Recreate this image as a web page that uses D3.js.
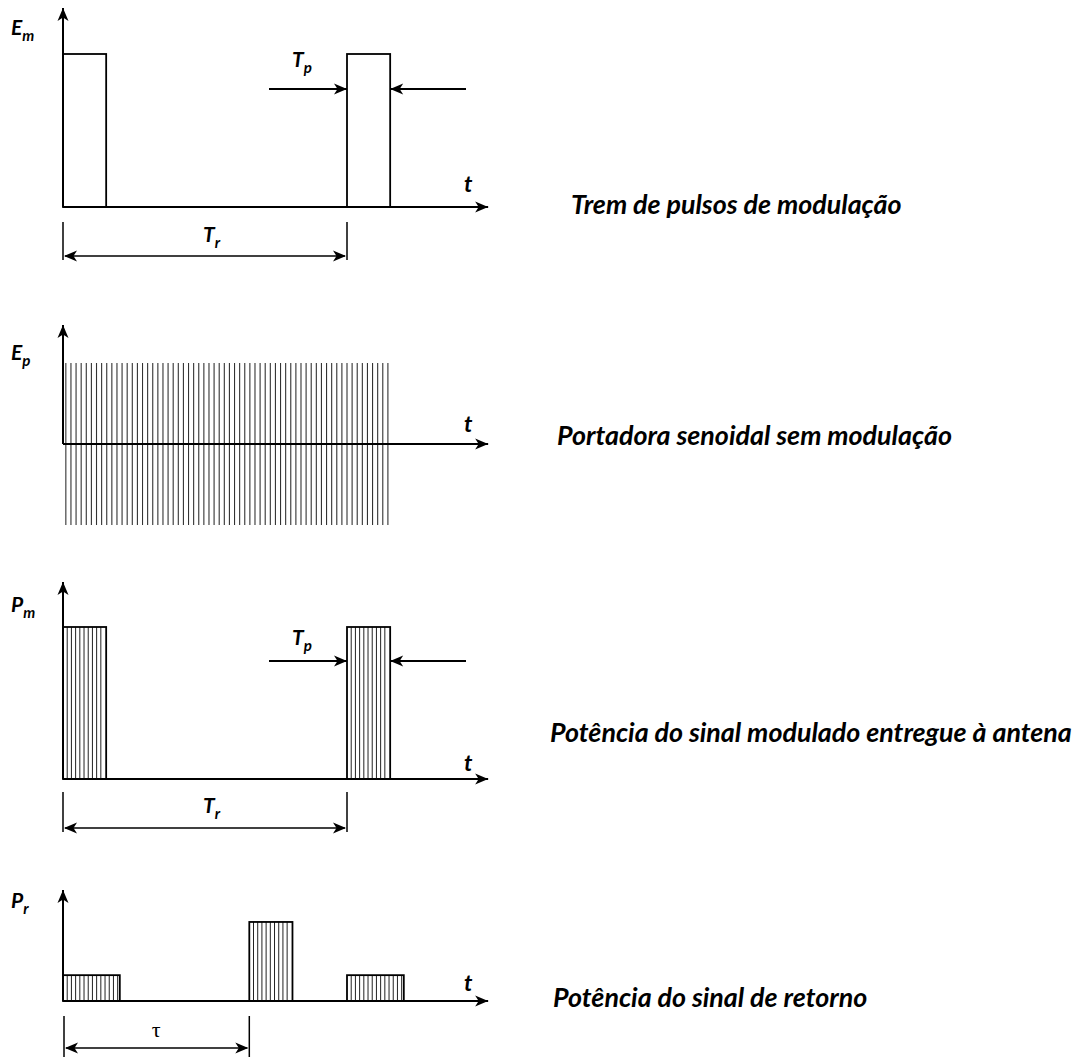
<!DOCTYPE html>
<html><head><meta charset="utf-8">
<script src="https://cdn.jsdelivr.net/npm/d3@7"></script>
<style>
html,body{margin:0;padding:0;background:#fff;}
svg{display:block;}
.lab{font-family:Lato,"Open Sans",sans-serif;font-weight:bold;font-style:italic;fill:#000;}
</style></head>
<body>
<svg id="chart" width="1078" height="1057"></svg>
<script>
// ---- data (time in units of the repetition period Tr) ----
const Tr = 1.0;                 // repetition period
const Tp = 0.152;               // pulse width
const modPulseStarts = [0, 1.0];          // modulation pulse start times
const modAmplitude = 1.0;
const carrierEnd = 1.15;                  // carrier drawn up to this time
const carrierPeriod = 0.018;              // one vertical stroke per carrier cycle
const carrierStart = 0.01;
const pulseHatchPeriod = 0.0148;          // carrier cycles inside a pulse
const echoPulses = [                       // return signal pulses
  {t: 0.0,   w: 0.2,   a: 0.17},
  {t: 0.656, w: 0.152, a: 0.52},
  {t: 1.0,   w: 0.2,   a: 0.17}
];
const tau = 0.656;
const tMax = 1.497;
const axisNames = [["E","m"],["E","p"],["P","m"],["P","r"]];
const captions = ["Trem de pulsos de modulação","Portadora senoidal sem modulação",
                  "Potência do sinal modulado entregue à antena","Potência do sinal de retorno"];

// ---- layout ----
const svg = d3.select("#chart");
const x = d3.scaleLinear().domain([0, Tr]).range([63, 347]);
const panels = [
  {base: 207, tip: 8,   top: 54,  labY: 35,  tY: 192, capY: 214},
  {base: 444, tip: 325, top: 363, labY: 360, tY: 432, capY: 445},
  {base: 779, tip: 582, top: 627, labY: 612, tY: 771, capY: 742},
  {base: 1001,tip: 890, top: 849, labY: 908, tY: 991, capY: 1007}
];
panels.forEach(p => { p.y = d3.scaleLinear().domain([0, 1]).range([p.base, p.top]); });

const head = (g, x0, y0, ang) => {
  g.append("path").attr("d","M0,0 L-13,-5.5 L-9.5,0 L-13,5.5 Z")
   .attr("transform",`translate(${x0},${y0}) rotate(${ang})`).attr("fill","#000");
};
const arrowLine = (x1,y1,x2,y2,w=2) => {
  const g = svg.append("g");
  g.append("line").attr("x1",x1).attr("y1",y1).attr("x2",x2).attr("y2",y2)
    .attr("stroke","#000").attr("stroke-width",w);
  const ang = Math.atan2(y2-y1, x2-x1)*180/Math.PI;
  head(g, x2, y2, ang);
  return g;
};
const subText = (x0, y0, main, sub, size) => {
  const t = svg.append("text").attr("class","lab").attr("x",x0).attr("y",y0).attr("font-size",size);
  t.append("tspan").text(main);
  t.append("tspan").attr("dy", size*0.3).attr("font-size", size*0.72).text(sub);
  return t;
};

// axes
panels.forEach((p,i) => {
  arrowLine(x(0), p.base, x(0), p.tip);
  arrowLine(x(0), p.base, x(tMax), p.base);
  subText(11, p.labY, axisNames[i][0], axisNames[i][1], 21);
  svg.append("text").attr("class","lab").attr("x",464).attr("y",p.tY).attr("font-size",23).text("t");
});

// panel 1: modulation pulses
const p1 = panels[0];
svg.append("g").selectAll("rect").data(modPulseStarts).join("rect")
  .attr("x", d => x(d)).attr("width", x(Tp) - x(0))
  .attr("y", p1.y(modAmplitude)).attr("height", p1.y(0) - p1.y(modAmplitude))
  .attr("fill","none").attr("stroke","#000").attr("stroke-width",1.8);

// panel 2: carrier
const p2 = panels[1];
const carrier = d3.range(carrierStart, carrierEnd, carrierPeriod);
svg.append("g").selectAll("line").data(carrier).join("line")
  .attr("x1", d => x(d)).attr("x2", d => x(d))
  .attr("y1", p2.base - (p2.base - p2.top)).attr("y2", p2.base + (p2.base - p2.top))
  .attr("stroke","#333").attr("stroke-width",1.1);
// redraw axis on top
svg.append("line").attr("x1",x(0)).attr("x2",x(tMax)-10).attr("y1",p2.base).attr("y2",p2.base)
  .attr("stroke","#000").attr("stroke-width",2);
svg.append("line").attr("x1",x(0)).attr("x2",x(0)).attr("y1",p2.base).attr("y2",p2.tip+8)
  .attr("stroke","#000").attr("stroke-width",2);

// hatched pulse helper
const hatched = (p, t0, w, a) => {
  const g = svg.append("g");
  const hs = d3.range(t0 + pulseHatchPeriod, t0 + w - pulseHatchPeriod*0.4, pulseHatchPeriod);
  g.selectAll("line").data(hs).join("line")
    .attr("x1", d => x(d)).attr("x2", d => x(d))
    .attr("y1", p.y(a)).attr("y2", p.y(0))
    .attr("stroke","#222").attr("stroke-width",1);
  g.append("rect").attr("x", x(t0)).attr("width", x(t0+w) - x(t0))
    .attr("y", p.y(a)).attr("height", p.y(0) - p.y(a))
    .attr("fill","none").attr("stroke","#000").attr("stroke-width",1.8);
};

// panel 3: modulated power
const p3 = panels[2];
modPulseStarts.forEach(t0 => hatched(p3, t0, Tp, modAmplitude));

// panel 4: echoes
const p4 = panels[3];
p4.y = d3.scaleLinear().domain([0,1]).range([p4.base, p4.base - 152]);
echoPulses.forEach(e => hatched(p4, e.t, e.w, e.a));

// Tp indicators
[[p1, 89, 67], [p3, 661, 645]].forEach(([p, ay, ty]) => {
  arrowLine(269, ay, x(1), ay);
  arrowLine(466, ay, x(1+Tp), ay);
  subText(292, ty, "T", "p", 21);
});

// dimension lines
const dim = (xa, xb, yTop, yBot, ay) => {
  [xa, xb].forEach(xx => svg.append("line").attr("x1",xx).attr("x2",xx).attr("y1",yTop).attr("y2",yBot)
     .attr("stroke","#000").attr("stroke-width",1.5));
  svg.append("line").attr("x1",xa+2).attr("x2",xb-2).attr("y1",ay).attr("y2",ay).attr("stroke","#000").attr("stroke-width",1.5);
  const g = svg.append("g");
  head(g, xa+1, ay, 180); head(g, xb-1, ay, 0);
};
dim(x(0), x(Tr), 222, 260, 256);
subText(203, 242, "T", "r", 21);
dim(x(0), x(Tr), 792, 832, 828);
subText(203, 813, "T", "r", 21);
dim(x(0)+1, x(tau), 1016, 1057, 1048);
svg.append("text").attr("x", (x(0)+x(tau))/2).attr("y", 1037).attr("text-anchor","middle")
  .attr("font-family","'Liberation Serif','DejaVu Serif',serif").attr("font-size",22).text("τ");

// captions
const capX = [571, 557, 550, 553];
const caps = svg.append("g").selectAll("text").data(captions).join("text")
  .attr("class","lab").attr("x",(d,i)=>capX[i]).attr("y",(d,i)=>panels[i].capY)
  .attr("font-size",20).text(d=>d);
const w = caps.nodes()[2].getComputedTextLength();
caps.attr("font-size", 20 * 522 / w);
</script>
</body></html>
